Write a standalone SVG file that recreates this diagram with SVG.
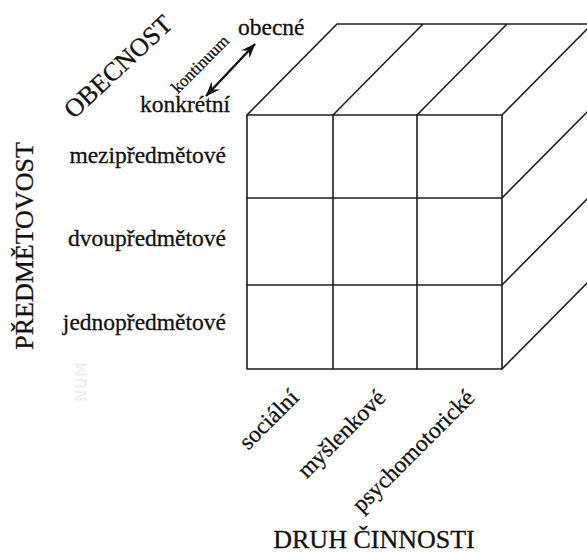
<svg xmlns="http://www.w3.org/2000/svg" width="587" height="553" viewBox="0 0 587 553">
<style>
.ln{stroke:#1e1e1e;stroke-width:1.6;fill:none;stroke-linecap:round;stroke-linejoin:round}
.t{font-family:"Liberation Serif","DejaVu Serif",serif;fill:#111;stroke:#111;stroke-width:0.3}
.lab{font-size:23.5px}
.big{font-size:26px}
</style>
<defs>
<marker id="ah" viewBox="0 0 14 11" refX="13.5" refY="5.5" markerWidth="6.2" markerHeight="4.9" markerUnits="strokeWidth" orient="auto-start-reverse">
<path d="M0,0 L14,5.5 L0,11 L5,5.5 Z" fill="#111"/>
</marker>
</defs>
<rect width="587" height="553" fill="#fff"/>
<g id="cube">
<rect class="ln" x="247" y="115" width="255" height="254"/>
<path class="ln" d="M333,115V369 M417,115V369 M247,198H502 M247,285H502"/>
<path class="ln" d="M247,115L337,24H600 M333,115L423,24 M417,115L507,24 M502,115L592,24"/>
<path class="ln" d="M502,198L592,107 M502,285L592,194 M502,369L592,278"/>
</g>
<g id="connectors">
<line x1="206" y1="96" x2="255" y2="44" stroke="#111" stroke-width="2.4" marker-start="url(#ah)" marker-end="url(#ah)"/>
</g>
<g id="axis-obecnost">
<text class="t big" text-anchor="middle" transform="translate(124,73) rotate(-43)">OBECNOST</text>
<text class="t" font-size="17" text-anchor="middle" transform="translate(204,68) rotate(-45)">kontinuum</text>
<text class="t lab" x="238" y="35">obecné</text>
<text class="t lab" x="140" y="112">konkrétní</text>
</g>
<g id="axis-predmetovost">
<text class="t big" text-anchor="middle" transform="translate(33,246) rotate(-90)">PŘEDMĚTOVOST</text>
<text class="t lab" text-anchor="end" x="226" y="163">mezipředmětové</text>
<text class="t lab" text-anchor="end" x="226" y="246">dvoupředmětové</text>
<text class="t lab" text-anchor="end" x="226" y="330">jednopředmětové</text>
<text font-family="'DejaVu Sans',sans-serif" font-weight="bold" font-size="15" fill="#f1f1f1" text-anchor="middle" transform="translate(87,382) rotate(-90)">NUM</text>
</g>
<g id="axis-druh">
<text class="t lab" text-anchor="end" transform="translate(300,399) rotate(-45)">sociální</text>
<text class="t lab" text-anchor="end" transform="translate(387,399) rotate(-45)">myšlenkové</text>
<text class="t lab" text-anchor="end" transform="translate(476,399) rotate(-45)">psychomotorické</text>
<text class="t big" text-anchor="middle" x="374" y="548">DRUH ČINNOSTI</text>
</g>
</svg>
